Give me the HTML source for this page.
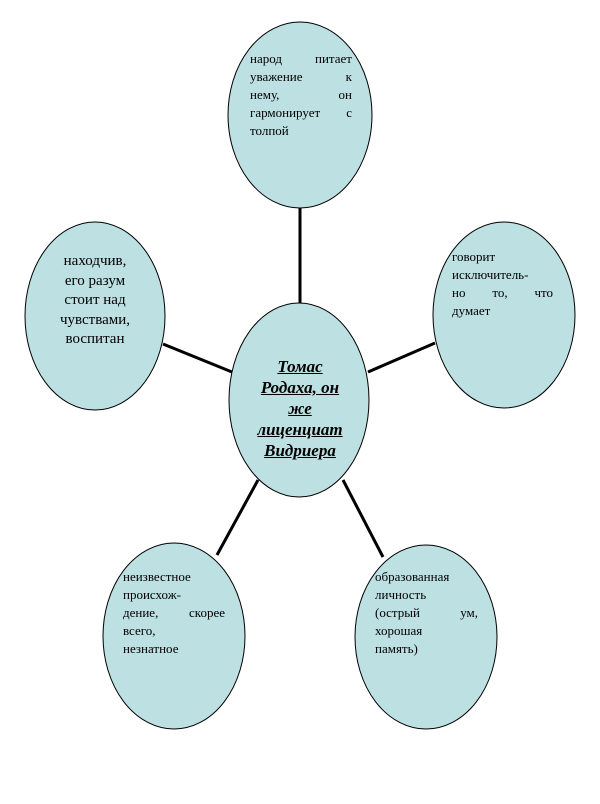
<!DOCTYPE html>
<html><head><meta charset="utf-8"><style>
body{margin:0;background:#fff;width:600px;height:804px;position:relative;overflow:hidden}
.t{position:absolute;font-family:"Liberation Serif","DejaVu Serif",serif;font-size:13px;line-height:18px;color:#000}
.t div{text-align:justify;text-align-last:justify;white-space:nowrap}
.t div.l{text-align-last:left}
.c{position:absolute;font-family:"Liberation Serif",serif;font-size:15px;line-height:19.5px;text-align:center}
.m{position:absolute;font-family:"Liberation Serif",serif;font-size:17px;line-height:21px;font-weight:bold;font-style:italic;text-decoration:underline;text-align:center}
</style></head><body>
<svg width="600" height="804" style="position:absolute;left:0;top:0">
<g stroke="#000" stroke-width="3">
<line x1="300" y1="205" x2="300" y2="306"/>
<line x1="163" y1="344" x2="232" y2="372"/>
<line x1="435" y1="343" x2="368" y2="372"/>
<line x1="217" y1="555" x2="258" y2="480"/>
<line x1="383" y1="557" x2="343" y2="480"/>
</g>
<g fill="#bde0e3" stroke="#000" stroke-width="1">
<ellipse cx="300" cy="115" rx="72" ry="93"/>
<ellipse cx="95" cy="316" rx="70" ry="94"/>
<ellipse cx="504" cy="315" rx="71" ry="93"/>
<ellipse cx="299" cy="400" rx="70" ry="97"/>
<ellipse cx="174" cy="636" rx="71" ry="93"/>
<ellipse cx="426" cy="637" rx="71" ry="92"/>
</g>
</svg>
<div class="t" style="left:250px;top:50px;width:102px">
<div>народ питает</div><div>уважение к</div><div>нему, он</div><div>гармонирует с</div><div class="l">толпой</div></div>
<div class="c" style="left:35px;top:252px;width:120px">находчив,<br>его разум<br>стоит над<br>чувствами,<br>воспитан</div>
<div class="t" style="left:452px;top:248px;width:101px">
<div class="l">говорит</div><div class="l">исключитель-</div><div>но то, что</div><div class="l">думает</div></div>
<div class="m" style="left:240px;top:356px;width:120px">Томас<br>Родаха, он<br>же<br>лиценциат<br>Видриера</div>
<div class="t" style="left:123px;top:568px;width:102px">
<div class="l">неизвестное</div><div class="l">происхож-</div><div>дение, скорее</div><div class="l">всего,</div><div class="l">незнатное</div></div>
<div class="t" style="left:375px;top:568px;width:103px">
<div class="l">образованная</div><div class="l">личность</div><div>(острый ум,</div><div class="l">хорошая</div><div class="l">память)</div></div>
</body></html>
